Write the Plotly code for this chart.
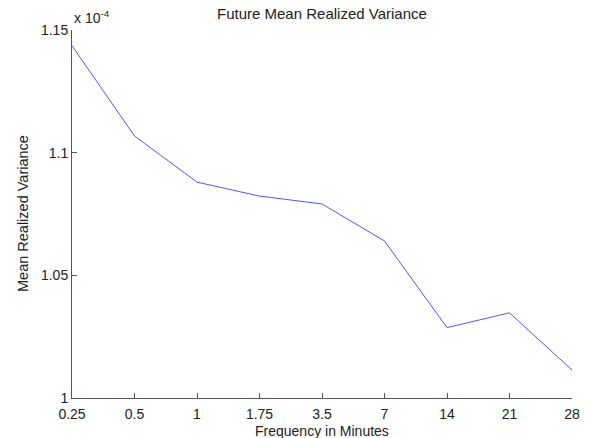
import plotly.graph_objects as go

# Sampling frequency (minutes) and future mean realized variance
frequencies = ["0.25", "0.5", "1", "1.75", "3.5", "7", "14", "21", "28"]
mean_rv = [1.1436e-4, 1.1068e-4, 1.0880e-4, 1.0823e-4, 1.0791e-4,
           1.0640e-4, 1.0287e-4, 1.0347e-4, 1.0114e-4]
y_ticks = [1.0, 1.05, 1.1, 1.15]
scale = 1e-4

FONT = "Liberation Sans, Arial, Helvetica, sans-serif"
AXIS_COLOR = "#555555"

fig = go.Figure(
    go.Scatter(
        x=frequencies,
        y=[v / scale for v in mean_rv],
        mode="lines",
        line=dict(color="#5555ff", width=1),
        hoverinfo="x+y",
    )
)

axis_common = dict(
    showgrid=False,
    zeroline=False,
    showline=True,
    linecolor=AXIS_COLOR,
    linewidth=1,
    ticks="inside",
    ticklen=5,
    tickcolor=AXIS_COLOR,
    tickfont=dict(size=14),
)

fig.update_layout(
    width=592,
    height=438,
    margin=dict(l=72, r=14, t=30, b=40),
    paper_bgcolor="white",
    plot_bgcolor="white",
    showlegend=False,
    font=dict(family=FONT, size=14, color="#222222"),
    xaxis=dict(type="category", range=[0, len(frequencies) - 1],
               ticklabelstandoff=3, **axis_common),
    yaxis=dict(
        range=[y_ticks[0], y_ticks[-1]],
        tickvals=y_ticks,
        ticktext=["1", "1.05", "1.1", "1.15"],
        **axis_common,
    ),
    annotations=[
        dict(text="Future Mean Realized Variance", xref="paper", yref="paper",
             x=0.5, y=1, yanchor="bottom", yshift=6, showarrow=False,
             font=dict(size=15)),
        dict(text="x 10<sup>-4</sup>", xref="paper", yref="paper", x=0, y=1,
             xanchor="left", yanchor="bottom", xshift=0, yshift=2,
             showarrow=False, font=dict(size=14)),
        dict(text="Mean Realized Variance", xref="paper", yref="paper",
             x=0, y=0.5, xanchor="center", xshift=-49, textangle=-90,
             showarrow=False, font=dict(size=14.5)),
        dict(text="Frequency in Minutes", xref="paper", yref="paper",
             x=0.5, y=0, yanchor="top", yshift=-23, showarrow=False,
             font=dict(size=14)),
    ],
)

fig.write_html("out.html")
